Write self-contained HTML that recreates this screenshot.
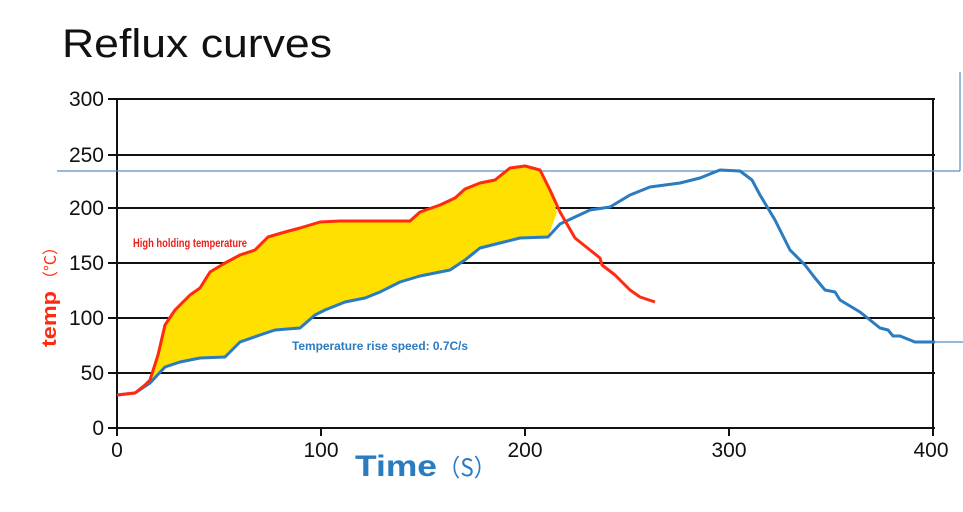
<!DOCTYPE html>
<html><head><meta charset="utf-8"><style>
body{margin:0;background:#fff;width:963px;height:512px;overflow:hidden}
svg{display:block}
</style></head><body>
<svg width="963" height="512" viewBox="0 0 963 512" font-family="Liberation Sans, sans-serif">
<text x="62" y="57" font-size="40" fill="#111" textLength="270" lengthAdjust="spacingAndGlyphs">Reflux curves</text>
<g stroke="#111" stroke-width="2">
<line x1="108" y1="99" x2="935" y2="99"/>
<line x1="108" y1="155" x2="935" y2="155"/>
<line x1="108" y1="208" x2="935" y2="208"/>
<line x1="108" y1="263" x2="935" y2="263"/>
<line x1="108" y1="318" x2="935" y2="318"/>
<line x1="108" y1="373" x2="935" y2="373"/>
<line x1="108" y1="428" x2="935" y2="428"/>
<line x1="117" y1="99" x2="117" y2="436"/>
<line x1="933" y1="99" x2="933" y2="436"/>
<line x1="321" y1="428" x2="321" y2="436"/>
<line x1="525" y1="428" x2="525" y2="436"/>
<line x1="729" y1="428" x2="729" y2="436"/>
</g>
<g stroke="#5b8fc4" stroke-width="1.2" fill="none">
<line x1="57" y1="171" x2="960" y2="171"/>
<line x1="960" y1="72" x2="960" y2="171"/>
<line x1="933" y1="342" x2="963" y2="342"/>
</g>
<g font-size="21" fill="#111" text-anchor="end">
<text x="104" y="106">300</text><text x="104" y="162">250</text><text x="104" y="215">200</text>
<text x="104" y="270">150</text><text x="104" y="325">100</text><text x="104" y="380">50</text><text x="104" y="435">0</text>
</g>
<g font-size="21" fill="#111" text-anchor="middle">
<text x="117" y="457">0</text><text x="321" y="457">100</text><text x="525" y="457">200</text><text x="729" y="457">300</text><text x="931" y="457">400</text>
</g>
<polygon fill="#ffe000" points="145,385 150,380 158,355 165,325 175,310 190,295 200,288 210,272 225,263 240,255 255,250 268,237 285,232 300,228 320,222 340,221 410,221 420,212 440,205 455,198 465,189 480,183 495,180 510,168 525,166 540,170 550,190 557,212 548,237 520,238 500,243 480,248 465,260 450,270 420,276 400,282 380,292 365,298 345,302 325,310 315,315 300,328 275,330 260,335 240,342 225,357 200,358 180,362 165,367 150,383"/>
<polyline fill="none" stroke="#2a7bbf" stroke-width="3" stroke-linejoin="round" points="117,395 135,393 150,383 165,367 180,362 200,358 225,357 240,342 260,335 275,330 300,328 315,315 325,310 345,302 365,298 380,292 400,282 420,276 450,270 465,260 480,248 500,243 520,238 548,237 560,224 575,217 590,210 610,207 630,195 650,187 680,183 700,178 720,170 740,171 752,180 760,195 775,220 790,250 805,265 815,278 825,290 835,292 840,300 860,312 880,328 888,330 893,336 900,336 915,342 935,342"/>
<polyline fill="none" stroke="#ff2a10" stroke-width="3" stroke-linejoin="round" points="117,395 135,393 145,385 150,380 158,355 165,325 175,310 190,295 200,288 210,272 225,263 240,255 255,250 268,237 285,232 300,228 320,222 340,221 410,221 420,212 440,205 455,198 465,189 480,183 495,180 510,168 525,166 540,170 550,190 560,212 575,238 590,250 600,258 602,265 615,275 630,290 640,297 655,302"/>
<text x="133" y="247" font-size="12" font-weight="bold" fill="#e8201a" textLength="114" lengthAdjust="spacingAndGlyphs">High holding temperature</text>
<text x="292" y="350" font-size="11.5" font-weight="bold" fill="#2a7bbf" textLength="176" lengthAdjust="spacingAndGlyphs">Temperature rise speed: 0.7C/s</text>
<text x="355" y="476" font-size="30" font-weight="bold" fill="#2a7bbf" textLength="82" lengthAdjust="spacingAndGlyphs">Time</text>
<text x="438" y="476" font-size="24" fill="#2a7bbf" font-family="Noto Sans CJK SC, sans-serif" textLength="58" lengthAdjust="spacingAndGlyphs">（S）</text>
<g transform="translate(56,347) rotate(-90)">
<text x="0" y="0" font-size="20" font-weight="bold" fill="#ff2a10" textLength="56" lengthAdjust="spacingAndGlyphs">temp</text>
<text x="60" y="0" font-size="16" fill="#ff2a10" font-family="Noto Sans CJK SC, sans-serif" textLength="48" lengthAdjust="spacingAndGlyphs">（°C）</text>
</g>
</svg>
</body></html>
